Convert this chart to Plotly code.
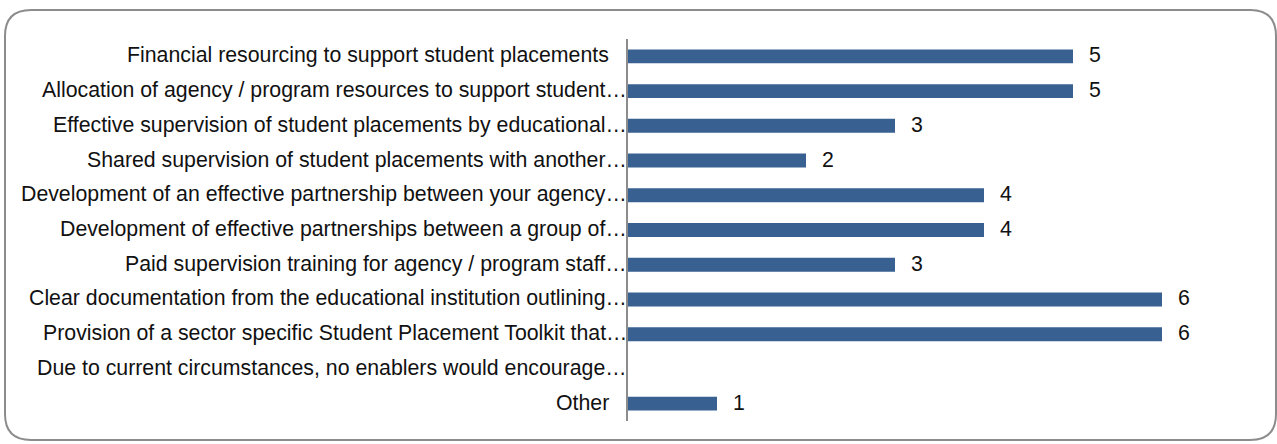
import plotly.graph_objects as go

# Survey responses: enablers that would encourage student placements
categories = [
    "Financial resourcing to support student placements",
    "Allocation of agency / program resources to support student…",
    "Effective supervision of student placements by educational…",
    "Shared supervision of student placements with another…",
    "Development of an effective partnership between your agency…",
    "Development of effective partnerships between a group of…",
    "Paid supervision training for agency / program staff…",
    "Clear documentation from the educational institution outlining…",
    "Provision of a sector specific Student Placement Toolkit that…",
    "Due to current circumstances, no enablers would encourage…",
    "Other",
]
counts = [5, 5, 3, 2, 4, 4, 3, 6, 6, 0, 1]
x_range = [0, 7]

W, H = 1277, 444
ML, MR, MT, MB = 628, 26, 39, 23
BAR = "#386192"
AXIS = "#8c8c8c"
FONT = "Liberation Sans, Arial, sans-serif"
FS = 21.3

fig = go.Figure(
    go.Bar(
        x=counts,
        y=categories,
        orientation="h",
        marker=dict(color=BAR, line=dict(width=0)),
        hoverinfo="x+y",
    )
)

# Category labels drawn as annotations so truncated names run up to the axis
for name in categories:
    truncated = name.endswith("…")
    fig.add_annotation(
        x=0, y=name, xref="x", yref="y",
        text=name, showarrow=False,
        xanchor="right", yanchor="middle",
        xshift=1 if truncated else -17, yshift=1,
        font=dict(family=FONT, size=FS, color="#111"),
    )

# Value labels to the right of each non-empty bar
for name, v in zip(categories, counts):
    if v:
        fig.add_annotation(
            x=v, y=name, xref="x", yref="y",
            text=str(v), showarrow=False,
            xanchor="left", yanchor="middle",
            xshift=14, yshift=1,
            font=dict(family=FONT, size=FS, color="#111"),
        )

# Rounded frame around the whole chart (pixel geometry converted to paper units)
pw, ph = W - ML - MR, H - MT - MB


def px(x):
    return (x - ML) / pw


def py(y):
    return (H - MB - y) / ph


x0, x1, y0, y1, r = 5, 1276, 10, 440, 26
path = (
    f"M {px(x0 + r)} {py(y0)} L {px(x1 - r)} {py(y0)} "
    f"Q {px(x1)} {py(y0)} {px(x1)} {py(y0 + r)} "
    f"L {px(x1)} {py(y1 - r)} "
    f"Q {px(x1)} {py(y1)} {px(x1 - r)} {py(y1)} "
    f"L {px(x0 + r)} {py(y1)} "
    f"Q {px(x0)} {py(y1)} {px(x0)} {py(y1 - r)} "
    f"L {px(x0)} {py(y0 + r)} "
    f"Q {px(x0)} {py(y0)} {px(x0 + r)} {py(y0)} Z"
)
fig.add_shape(type="path", path=path, xref="paper", yref="paper",
              line=dict(color=AXIS, width=2), layer="below")

fig.update_layout(
    width=W, height=H,
    margin=dict(l=ML, r=MR, t=MT, b=MB, pad=0),
    paper_bgcolor="white", plot_bgcolor="white",
    showlegend=False,
    bargap=0.6,
    xaxis=dict(range=x_range, visible=False, fixedrange=True),
    yaxis=dict(
        autorange="reversed", showticklabels=False, ticks="",
        showline=True, linecolor=AXIS, linewidth=2,
        showgrid=False, zeroline=False, fixedrange=True,
    ),
)

fig.write_html("out.html", config={"displayModeBar": False})
